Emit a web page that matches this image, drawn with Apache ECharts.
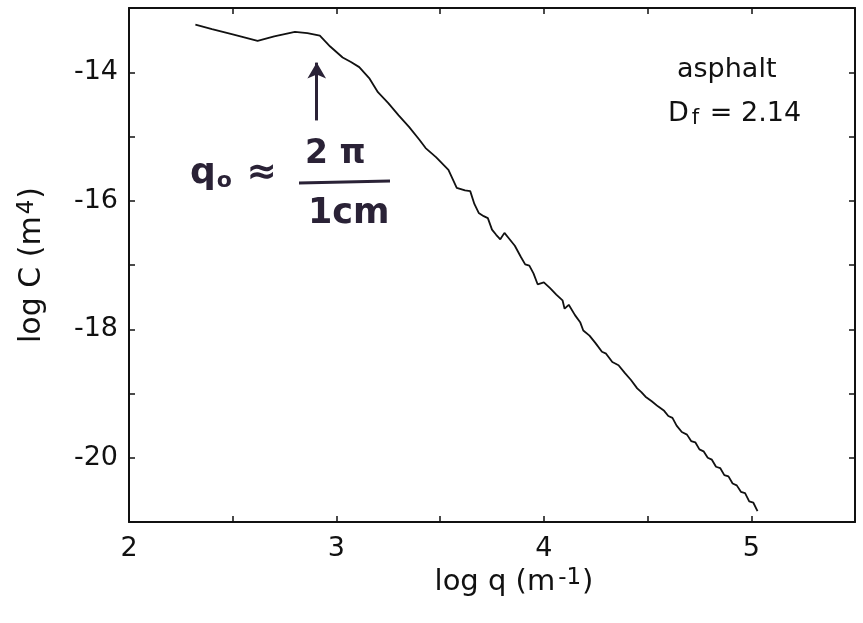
<!DOCTYPE html>
<html style="height: 100%">
<head>
<meta charset="utf-8">
<script src="https://cdn.jsdelivr.net/npm/echarts@6/dist/echarts.min.js"></script>
</head>
<body style="height: 100%; margin: 0; background: #fff">
<div id="container" style="width: 863px; height: 623px"></div>
<script type="text/javascript">
// log q (m^-1) values
var logQ = [2.32, 2.40, 2.50, 2.62, 2.70, 2.80, 2.86, 2.92, 2.97, 3.03, 3.07, 3.11, 3.16, 3.20, 3.25, 3.30,
    3.35, 3.40, 3.43, 3.48, 3.54, 3.58, 3.62, 3.645, 3.665, 3.686, 3.71, 3.73, 3.75, 3.77, 3.79, 3.81,
    3.83, 3.86, 3.89, 3.91, 3.93, 3.95, 3.97, 4.00, 4.03, 4.06, 4.09, 4.10, 4.12, 4.15, 4.175, 4.19,
    4.22, 4.25, 4.28, 4.30, 4.33, 4.36, 4.39, 4.42, 4.45, 4.47, 4.49, 4.52, 4.55, 4.58, 4.60, 4.62,
    4.64, 4.665, 4.69, 4.71, 4.73, 4.75, 4.77, 4.79, 4.81, 4.83, 4.85, 4.87, 4.89, 4.91, 4.93, 4.95,
    4.97, 4.99, 5.01, 5.03];
// log C (m^4) values
var logC = [-13.26, -13.33, -13.41, -13.51, -13.44, -13.37, -13.39, -13.43, -13.60, -13.77, -13.84, -13.92, -14.10, -14.31, -14.48, -14.67,
    -14.85, -15.05, -15.18, -15.32, -15.52, -15.80, -15.84, -15.85, -16.05, -16.19, -16.24, -16.27, -16.45, -16.53, -16.60, -16.50,
    -16.58, -16.70, -16.88, -16.99, -17.01, -17.13, -17.30, -17.27, -17.36, -17.46, -17.55, -17.68, -17.62, -17.78, -17.89, -18.02,
    -18.10, -18.22, -18.35, -18.38, -18.51, -18.56, -18.68, -18.79, -18.92, -18.98, -19.05, -19.12, -19.20, -19.27, -19.35, -19.38,
    -19.50, -19.60, -19.64, -19.74, -19.76, -19.87, -19.90, -20.00, -20.03, -20.14, -20.16, -20.27, -20.29, -20.40, -20.43, -20.53,
    -20.55, -20.68, -20.70, -20.83];

var xTickLabels = [2, 3, 4, 5];
var yTickLabels = [-14, -16, -18, -20];

var curve = logQ.map(function (q, i) { return [q, logC[i]]; });

var dom = document.getElementById("container");
var myChart = echarts.init(dom);

var axisFont = {fontFamily: 'DejaVu Sans', fontSize: 27, color: '#111'};
var hand = '#2a2236';

function baseAxis(show) {
    return {
        axisLine: {show: true, lineStyle: {color: '#111', width: 2}},
        axisTick: {show: true, inside: true, length: 6, lineStyle: {color: '#111', width: 1.5}},
        splitLine: {show: false},
        axisLabel: {show: show}
    };
}

var option = {
    animation: false,
    backgroundColor: '#fff',
    grid: {left: 129, right: 8, top: 8, bottom: 101},
    xAxis: [
        Object.assign(baseAxis(true), {
            type: 'value', min: 2, max: 5.5, interval: 0.5, position: 'bottom',
            name: '{n|log q (m}{s|-1}{n|)}', nameLocation: 'middle', nameGap: 41,
            nameTextStyle: {padding: [0, 0, 0, 44], rich: {
                n: {fontFamily: 'DejaVu Sans', fontSize: 29, color: '#111'},
                s: {fontFamily: 'DejaVu Sans', fontSize: 23, color: '#111', padding: [0, 1, 8, 3]}
            }},
            axisLabel: Object.assign({show: true, margin: 13, formatter: function (v) {
                return xTickLabels.indexOf(v) >= 0 ? String(v) : '';
            }}, axisFont)
        }),
        Object.assign(baseAxis(false), {type: 'value', min: 2, max: 5.5, interval: 0.5, position: 'top'})
    ],
    yAxis: [
        Object.assign(baseAxis(true), {
            type: 'value', min: -21, max: -13, interval: 1, position: 'left',
            name: '{n|log C (m}{s|4}{n|)}', nameLocation: 'middle', nameGap: 80, nameRotate: 90,
            nameTextStyle: {rich: {
                n: {fontFamily: 'DejaVu Sans', fontSize: 30, color: '#111'},
                s: {fontFamily: 'DejaVu Sans', fontSize: 23, color: '#111', padding: [0, 1, 10, 2]}
            }},
            axisLabel: Object.assign({show: true, margin: 11, formatter: function (v) {
                return yTickLabels.indexOf(v) >= 0 ? String(v) : '';
            }}, axisFont)
        }),
        Object.assign(baseAxis(false), {type: 'value', min: -21, max: -13, interval: 1, position: 'right'})
    ],
    graphic: [
        {type: 'text', left: 677, top: 56, style: {text: 'asphalt', font: '27px "DejaVu Sans"', fill: '#111'}},
        {type: 'text', left: 668, top: 100, style: {
            text: '{d|D}{f|f}{d| = 2.14}',
            rich: {
                d: {fontFamily: 'DejaVu Sans', fontSize: 27, fill: '#111'},
                f: {fontFamily: 'DejaVu Sans', fontSize: 21, fill: '#111', padding: [10, 2, 0, 3]}
            }
        }},
        {type: 'text', left: 190, top: 156, style: {
            text: '{q|q}{o|o}{q| \u2248}',
            rich: {
                q: {fontFamily: 'DejaVu Sans', fontSize: 36, fontWeight: 'bold', fill: hand},
                o: {fontFamily: 'DejaVu Sans', fontSize: 22, fontWeight: 'bold', fill: hand, padding: [14, 2, 0, 1]}
            }
        }},
        {type: 'text', left: 305, top: 138, style: {text: '2 \u03c0', font: 'bold 33px "DejaVu Sans"', fill: hand}},
        {type: 'line', shape: {x1: 299, y1: 183, x2: 390, y2: 181}, style: {stroke: hand, lineWidth: 3}},
        {type: 'text', left: 308, top: 196, style: {text: '1cm', font: 'bold 35px "DejaVu Sans"', fill: hand}}
    ],
    series: [{
        type: 'line',
        data: curve,
        showSymbol: false,
        lineStyle: {color: '#111', width: 1.8},
        markLine: {
            silent: true,
            symbol: ['none', 'arrow'],
            symbolSize: [14, 16],
            label: {show: false},
            lineStyle: {color: hand, width: 3, type: 'solid'},
            data: [[{coord: [2.905, -14.75]}, {coord: [2.905, -13.85]}]]
        }
    }]
};

myChart.setOption(option, true);
</script>
</body>
</html>
